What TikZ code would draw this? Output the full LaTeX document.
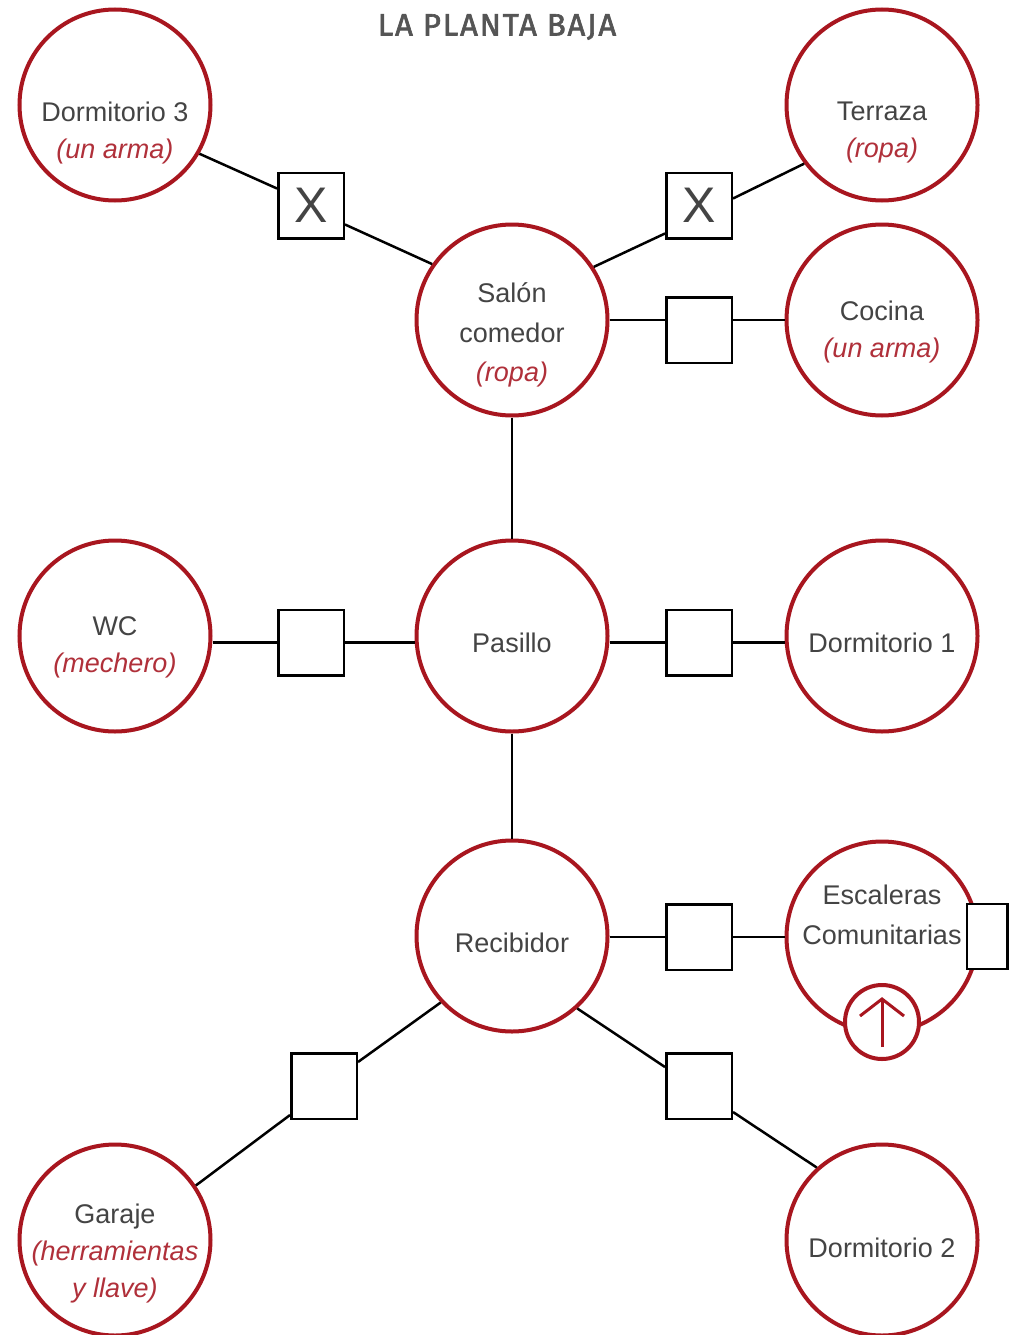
\documentclass[tikz,border=0pt]{standalone}
\usepackage{fontspec}
\setmainfont{Liberation Sans}
\newfontfamily\titlefont{Fira Sans}[FakeBold=2,LetterSpace=6]
\definecolor{roomred}{HTML}{A8161F}
\definecolor{itred}{HTML}{B0303A}
\definecolor{txtgray}{HTML}{444444}
\definecolor{titlegray}{HTML}{555555}
\newcommand\redit[1]{{\color{itred}\itshape #1}}
\begin{document}
\begin{tikzpicture}[x=1pt,y=-1pt,
  room/.style={circle,draw=roomred,line width=4pt,fill=white,minimum size=191pt,inner sep=0pt},
  doorbox/.style={rectangle,draw=black,line width=2.5pt,fill=white,minimum size=65.5pt,inner sep=0pt,
    font=\fontsize{50}{50}\selectfont,text=txtgray},
  lbl/.style={align=center,text=txtgray,font=\fontsize{27}{37}\selectfont,inner sep=0pt},
  conn/.style={line width=2.5pt,black}]
\useasboundingbox[fill=white] (0,0) rectangle (1018,1335);

% title
\node[font=\titlefont\fontsize{31}{31}\selectfont,text=titlegray] (title) at (497,27) {LA PLANTA BAJA};

% rooms
\node[room] (d3) at (115,105) {};
\node[room] (terraza) at (882,105) {};
\node[room] (salon) at (512,320) {};
\node[room] (cocina) at (882,320) {};
\node[room] (wc) at (115,636) {};
\node[room] (pasillo) at (512,636) {};
\node[room] (d1) at (882,636) {};
\node[room] (rec) at (512,936) {};
\node[room] (esc) at (882,937) {};
\node[room] (garaje) at (115,1240) {};
\node[room] (d2) at (882,1240) {};

% doors
\node[doorbox] (door1) at (311,205.5) {X};
\node[doorbox] (door2) at (699,205.5) {X};
\node[doorbox] (door3) at (699,330) {};
\node[doorbox] (door4) at (311,642.5) {};
\node[doorbox] (door5) at (699,642.5) {};
\node[doorbox] (door6) at (699,937) {};
\node[doorbox] (door7) at (324,1086) {};
\node[doorbox] (door8) at (699,1086) {};
\node[rectangle,draw=black,line width=2.5pt,fill=white,minimum width=40.5pt,minimum height=65pt,inner sep=0pt] (escdoor) at (987,936.5) {};

% up arrow
\node[circle,draw=roomred,line width=4pt,fill=white,minimum size=74pt,inner sep=0pt] (up) at (882,1022) {};
\draw[roomred,line width=3pt] (882,1047) -- (882,999);
\draw[roomred,line width=3pt,line join=miter] (860,1016) -- (882,999) -- (904,1016);

% labels
\node[lbl] (t-d3) at (115,133) {Dormitorio 3\\\redit{(un arma)}};
\node[lbl] (t-terraza) at (882,133) {Terraza\\\redit{(ropa)}};
\node[lbl,font=\fontsize{27}{39.5}\selectfont] (t-salon) at (512,335) {Salón\\comedor\\\redit{(ropa)}};
\node[lbl] (t-cocina) at (882,332) {Cocina\\\redit{(un arma)}};
\node[lbl] (t-wc) at (115,647) {WC\\\redit{(mechero)}};
\node[lbl] (t-pasillo) at (512,643) {Pasillo};
\node[lbl] (t-d1) at (882,643) {Dormitorio 1};
\node[lbl] (t-rec) at (512,943) {Recibidor};
\node[lbl,font=\fontsize{27}{40}\selectfont] (t-esc) at (882,915) {Escaleras\\Comunitarias};
\node[lbl] (t-garaje) at (115,1254) {Garaje\\\redit{(herramientas}\\\redit{y llave)}};
\node[lbl] (t-d2) at (882,1248) {Dormitorio 2};

% connectors
\draw[conn] (d3.-30) -- ([yshift=-17pt]door1.north west);
\draw[conn] ([yshift=-19pt]door1.east) -- (salon.145);
\draw[conn] (terraza.217) -- ([yshift=7pt]door2.east);
\draw[conn] ([yshift=-28pt]door2.west) -- (salon.33);
\draw[conn] (salon.east) -- (salon.east -| door3.west);
\draw[conn] (door3.east |- cocina.west) -- (cocina.west);
\draw[conn] (door4.west) -- (door4.west -| wc.east);
\draw[conn] (door4.east) -- (door4.east -| pasillo.west);
\draw[conn] (door5.west -| pasillo.east) -- (door5.west);
\draw[conn] (door5.east) -- (door5.east -| d1.west);
\draw[conn] (salon.south) -- (pasillo.north);
\draw[conn] (pasillo.south) -- (rec.north);
\draw[conn] (door6.west -| rec.east) -- (door6.west);
\draw[conn] (door6.east) -- (door6.east -| esc.west);
\draw[conn] (rec.223) -- ([yshift=24pt]door7.east);
\draw[conn] ([yshift=-29pt]door7.west) -- (garaje.34);
\draw[conn] (rec.-48) -- ([yshift=19pt]door8.west);
\draw[conn] ([yshift=-26pt]door8.east) -- (d2.132);
\end{tikzpicture}
\end{document}
